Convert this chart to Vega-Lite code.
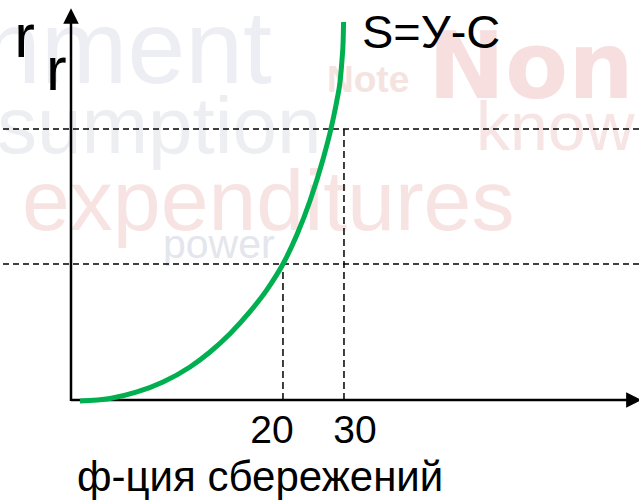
{
  "$schema": "https://vega.github.io/schema/vega-lite/v6.json",
  "width": 639,
  "height": 502,
  "autosize": "none",
  "padding": 0,
  "background": "white",
  "config": {"view": {"stroke": null}, "font": "Liberation Sans"},
  "layer": [
    {
      "data": {"values": [{"x": -15.5, "y": 55.81, "t": "nment"}]},
      "mark": {"type": "text", "align": "left", "baseline": "alphabetic", "fontSize": 104, "color": "#eceef3", "font": "Liberation Sans"},
      "encoding": {
        "x": {"field": "x", "type": "quantitative", "scale": {"domain": [-12.5, 100], "nice": false, "zero": false}, "axis": null},
        "y": {"field": "y", "type": "quantitative", "scale": {"domain": [-17.96, 70.42], "nice": false, "zero": false}, "axis": null},
        "text": {"field": "t"}
      }
    },
    {
      "data": {"values": [{"x": -13.03, "y": 43.49, "t": "sumption"}]},
      "mark": {"type": "text", "align": "left", "baseline": "alphabetic", "fontSize": 80, "color": "#eceef1"},
      "encoding": {
        "x": {"field": "x", "type": "quantitative", "axis": null},
        "y": {"field": "y", "type": "quantitative", "axis": null},
        "text": {"field": "t"}
      }
    },
    {
      "data": {"values": [{"x": -8.63, "y": 29.93, "t": "expenditures"}]},
      "mark": {"type": "text", "align": "left", "baseline": "alphabetic", "fontSize": 86, "color": "#f8e3e3"},
      "encoding": {
        "x": {"field": "x", "type": "quantitative", "axis": null},
        "y": {"field": "y", "type": "quantitative", "axis": null},
        "text": {"field": "t"}
      }
    },
    {
      "data": {"values": [{"x": 62.85, "y": 53.17, "t": "Non"}]},
      "mark": {"type": "text", "align": "left", "baseline": "alphabetic", "fontSize": 92, "fontWeight": "bold", "font": "DejaVu Sans", "color": "#f8dfdf"},
      "encoding": {
        "x": {"field": "x", "type": "quantitative", "axis": null},
        "y": {"field": "y", "type": "quantitative", "axis": null},
        "text": {"field": "t"}
      }
    },
    {
      "data": {"values": [{"x": 71.3, "y": 44.01, "t": "knowledge"}]},
      "mark": {"type": "text", "align": "left", "baseline": "alphabetic", "fontSize": 68, "color": "#f7e5e5"},
      "encoding": {
        "x": {"field": "x", "type": "quantitative", "axis": null},
        "y": {"field": "y", "type": "quantitative", "axis": null},
        "text": {"field": "t"}
      }
    },
    {
      "data": {"values": [{"x": 45.07, "y": 54.23, "t": "Note"}]},
      "mark": {"type": "text", "align": "left", "baseline": "alphabetic", "fontSize": 37, "fontWeight": "bold", "color": "#f5e3df"},
      "encoding": {
        "x": {"field": "x", "type": "quantitative", "axis": null},
        "y": {"field": "y", "type": "quantitative", "axis": null},
        "text": {"field": "t"}
      }
    },
    {
      "data": {"values": [{"x": 16.2, "y": 25.0, "t": "power"}]},
      "mark": {"type": "text", "align": "left", "baseline": "alphabetic", "fontSize": 41, "color": "#e3e6ec"},
      "encoding": {
        "x": {"field": "x", "type": "quantitative", "axis": null},
        "y": {"field": "y", "type": "quantitative", "axis": null},
        "text": {"field": "t"}
      }
    },
    {
      "data": {"values": [{"y": 47.71}, {"y": 23.94}]},
      "mark": {"type": "rule", "color": "black", "strokeWidth": 1.3, "strokeDash": [6, 4]},
      "encoding": {
        "y": {"field": "y", "type": "quantitative", "axis": null}
      }
    },
    {
      "data": {"values": [{"x": 37.32, "y0": 0, "y1": 23.94}, {"x": 48.06, "y0": 0, "y1": 47.71}]},
      "mark": {"type": "rule", "color": "black", "strokeWidth": 1.5, "strokeDash": [7, 4]},
      "encoding": {
        "x": {"field": "x", "type": "quantitative", "axis": null},
        "y": {"field": "y0", "type": "quantitative", "axis": null},
        "y2": {"field": "y1"}
      }
    },
    {
      "data": {"values": [{"x0": 0, "x1": 0, "y0": -0.2, "y1": 67}, {"x0": 0, "x1": 98, "y0": 0, "y1": 0}]},
      "mark": {"type": "rule", "color": "black", "strokeWidth": 2.5},
      "encoding": {
        "x": {"field": "x0", "type": "quantitative", "axis": null},
        "x2": {"field": "x1"},
        "y": {"field": "y0", "type": "quantitative", "axis": null},
        "y2": {"field": "y1"}
      }
    },
    {
      "data": {"values": [{"x": 0, "y": 67.6}]},
      "mark": {"type": "point", "shape": "M0,-1L-1,1L1,1Z", "size": 240, "filled": true, "color": "black", "opacity": 1},
      "encoding": {
        "x": {"field": "x", "type": "quantitative", "axis": null},
        "y": {"field": "y", "type": "quantitative", "axis": null}
      }
    },
    {
      "data": {"values": [{"x": 99.1, "y": 0}]},
      "mark": {"type": "point", "shape": "M1,0L-1,-1L-1,1Z", "size": 240, "filled": true, "color": "black", "opacity": 1},
      "encoding": {
        "x": {"field": "x", "type": "quantitative", "axis": null},
        "y": {"field": "y", "type": "quantitative", "axis": null}
      }
    },
    {
      "data": {"values": [
        {"x": 1.58, "y": -0.18},
        {"x": 6.87, "y": 0.26},
        {"x": 11.62, "y": 1.41},
        {"x": 16.2, "y": 3.17},
        {"x": 20.95, "y": 5.81},
        {"x": 24.47, "y": 8.45},
        {"x": 27.99, "y": 11.67},
        {"x": 31.51, "y": 15.55},
        {"x": 34.51, "y": 19.44},
        {"x": 37.32, "y": 23.94},
        {"x": 39.79, "y": 29.12},
        {"x": 42.08, "y": 35.07},
        {"x": 44.37, "y": 42.39},
        {"x": 45.77, "y": 47.75},
        {"x": 46.3, "y": 50.18},
        {"x": 46.83, "y": 52.82},
        {"x": 47.36, "y": 55.99},
        {"x": 47.71, "y": 59.86},
        {"x": 47.92, "y": 63.38},
        {"x": 47.99, "y": 66.55}
      ]},
      "mark": {"type": "line", "color": "#00b050", "strokeWidth": 5, "interpolate": "monotone"},
      "encoding": {
        "x": {"field": "x", "type": "quantitative", "axis": null},
        "y": {"field": "y", "type": "quantitative", "axis": null}
      }
    },
    {
      "data": {"values": [{"x": -10.0, "y": 60.39, "t": "r"}, {"x": -4.4, "y": 54.58, "t": "r"}]},
      "mark": {"type": "text", "align": "left", "baseline": "alphabetic", "fontSize": 62, "color": "black"},
      "encoding": {
        "x": {"field": "x", "type": "quantitative", "axis": null},
        "y": {"field": "y", "type": "quantitative", "axis": null},
        "text": {"field": "t"}
      }
    },
    {
      "data": {"values": [{"x": 51.23, "y": 61.97, "t": "S=У-С"}]},
      "mark": {"type": "text", "align": "left", "baseline": "alphabetic", "fontSize": 47, "color": "black"},
      "encoding": {
        "x": {"field": "x", "type": "quantitative", "axis": null},
        "y": {"field": "y", "type": "quantitative", "axis": null},
        "text": {"field": "t"}
      }
    },
    {
      "data": {"values": [{"x": 35.39, "y": -7.57, "t": "20"}, {"x": 50.0, "y": -7.57, "t": "30"}]},
      "mark": {"type": "text", "align": "center", "baseline": "alphabetic", "fontSize": 39, "color": "black"},
      "encoding": {
        "x": {"field": "x", "type": "quantitative", "axis": null},
        "y": {"field": "y", "type": "quantitative", "axis": null},
        "text": {"field": "t"}
      }
    },
    {
      "data": {"values": [{"x": 1.06, "y": -16.02, "t": "ф-ция сбережений"}]},
      "mark": {"type": "text", "align": "left", "baseline": "alphabetic", "fontSize": 42, "color": "black"},
      "encoding": {
        "x": {"field": "x", "type": "quantitative", "axis": null},
        "y": {"field": "y", "type": "quantitative", "axis": null},
        "text": {"field": "t"}
      }
    }
  ]
}
